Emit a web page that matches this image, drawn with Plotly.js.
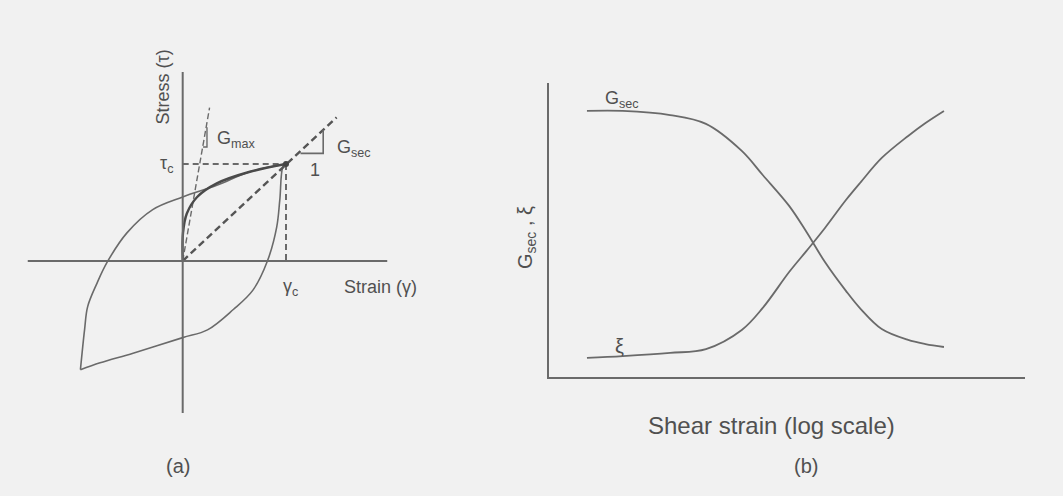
<!DOCTYPE html>
<html>
<head>
<meta charset="utf-8">
<script src="https://cdn.plot.ly/plotly-3.0.1.min.js"></script>
<style>
  html, body { margin: 0; padding: 0; background: #f1f1f1; }
  #chart { width: 1063px; height: 496px; }
</style>
</head>
<body>
<div id="chart"></div>
<script>
// panel (a): strain / stress normalised by gamma_c, tau_c
const gammaC = 1;
const tauC = 1;

const upperX = [1, 0.65, 0.33, 0.0, -0.29, -0.54, -0.73, -0.83, -0.92, -0.95, -0.99];
const upperY = [1, 0.92, 0.78, 0.66, 0.53, 0.29, -0.01, -0.23, -0.47, -0.71, -1.12];

const lowerX = [-0.99, -0.8, -0.48, 0.0, 0.24, 0.49, 0.68, 0.82, 0.91, 0.94, 0.97, 1];
const lowerY = [-1.12, -1.05, -0.95, -0.79, -0.71, -0.5, -0.3, 0.0, 0.35, 0.63, 0.97, 1];

const backboneX = [0, 0.003, 0.04, 0.14, 0.33, 0.65, 1];
const backboneY = [0, 0.29, 0.49, 0.66, 0.8, 0.92, 1];

const gMaxX = [0, 0.26];
const gMaxY = [0, 1.58];
const gMaxStepX = [0.197, 0.235, 0.235];
const gMaxStepY = [1.175, 1.175, 1.38];

const gSecX = [0, 1.49];
const gSecY = [0, 1.48];
const gSecTriX = [1.14, 1.36, 1.36];
const gSecTriY = [1.11, 1.11, 1.35];

// panel (b): shear strain (log) vs normalised G_sec and damping
const strain = [1e-4, 2e-4, 5e-4, 1e-3, 2e-3, 3e-3, 5e-3, 7e-3, 1e-2, 1.5e-2, 2e-2, 3e-2, 5e-2, 7e-2, 1e-1];
const gSec = [0.905, 0.905, 0.891, 0.861, 0.769, 0.687, 0.582, 0.493, 0.391, 0.293, 0.231, 0.163, 0.126, 0.112, 0.102];
const damping = [0.065, 0.071, 0.082, 0.095, 0.16, 0.235, 0.357, 0.429, 0.507, 0.602, 0.663, 0.745, 0.82, 0.864, 0.905];

const W = 1063, H = 496;
const lineCol = "#6a6a6a";
const textCol = "#505050";
const font = "Liberation Sans";

function px(x) { return x / W; }
function py(y) { return 1 - y / H; }

function line(x, y, opts) {
  return Object.assign({
    x, y,
    type: "scatter",
    mode: "lines",
    xaxis: "x",
    yaxis: "y",
    hoverinfo: "skip",
    showlegend: false,
    line: { color: lineCol, width: 1.6 }
  }, opts || {});
}

function smooth(color, width) {
  return { color, width, shape: "spline", smoothing: 1 };
}

const traces = [
  line(upperX, upperY, { line: smooth(lineCol, 1.6) }),
  line(lowerX, lowerY, { line: smooth(lineCol, 1.6) }),
  line([0, gammaC], [tauC, tauC], { line: { color: lineCol, width: 2, dash: "6px,4px" } }),
  line([gammaC, gammaC], [tauC, 0], { line: { color: lineCol, width: 2, dash: "6px,4px" } }),
  line(gSecX, gSecY, { line: { color: "#555", width: 2.4, dash: "7px,4px" } }),
  line(gMaxX, gMaxY, { line: { color: lineCol, width: 1.4, dash: "6px,3px" } }),
  line(gMaxStepX, gMaxStepY, { line: { color: lineCol, width: 1.4 } }),
  line(gSecTriX, gSecTriY, { line: { color: lineCol, width: 1.6 } }),
  line(backboneX, backboneY, { line: smooth("#4a4a4a", 2.4) }),
  line([gammaC], [tauC], { mode: "markers", marker: { color: "#444", size: 6 } }),

  line(strain, gSec, { xaxis: "x2", yaxis: "y2", line: smooth(lineCol, 1.8) }),
  line(strain, damping, { xaxis: "x2", yaxis: "y2", line: smooth(lineCol, 1.8) })
];

const hidden = {
  showgrid: false, zeroline: false, showticklabels: false,
  ticks: "", showline: false, fixedrange: true
};

const shapes = [
  // panel (a) axes
  { type: "line", xref: "x", yref: "y", x0: -1.5, x1: 1.98, y0: 0, y1: 0,
    line: { color: lineCol, width: 2 } },
  { type: "line", xref: "x", yref: "y", x0: 0, x1: 0, y0: -1.567, y1: 1.948,
    line: { color: lineCol, width: 2 } }
];

function note(text, x, y, opts) {
  return Object.assign({
    text, x, y,
    xref: "x", yref: "y",
    xanchor: "center", yanchor: "middle",
    showarrow: false,
    font: { family: font, size: 18, color: textCol }
  }, opts || {});
}

function paperNote(text, x, y, size, opts) {
  return note(text, px(x), py(y), Object.assign({
    xref: "paper", yref: "paper",
    font: { family: font, size, color: textCol }
  }, opts || {}));
}

const annotations = [
  note("τ<sub>c</sub>", -0.07, 1, { xanchor: "right" }),
  note("γ<sub>c</sub>", 1.04, -0.27),
  note("Strain (γ)", 1.54, -0.27, { xanchor: "left" }),
  note("Stress (τ)", -0.19, 1.79, { textangle: -90 }),
  note("G<sub>max</sub>", 0.31, 1.25, { xanchor: "left" }),
  note("G<sub>sec</sub>", 1.47, 1.16, { xanchor: "left" }),
  note("1", 1.28, 0.94),
  paperNote("(a)", 178, 466, 20),

  paperNote("G<sub>sec</sub>", 603, 99, 18, { xanchor: "left" }),
  paperNote("ξ", 619, 346, 20),
  paperNote("G<sub>sec</sub> , ξ", 526, 238, 20, { textangle: -90 }),
  paperNote("Shear strain (log scale)", 771, 425, 24),
  paperNote("(b)", 806, 466, 20)
];

const layout = {
  width: W,
  height: H,
  margin: { l: 0, r: 0, t: 0, b: 0 },
  paper_bgcolor: "#f1f1f1",
  plot_bgcolor: "rgba(0,0,0,0)",
  font: { family: font, color: textCol },
  showlegend: false,
  hovermode: false,

  xaxis: Object.assign({ domain: [0, 0.4], range: [-1.7686, 2.3475], anchor: "y" }, hidden),
  yaxis: Object.assign({ domain: [0, 1], range: [-2.4227, 2.6907], anchor: "x" }, hidden),

  xaxis2: Object.assign({}, hidden, {
    type: "log",
    domain: [549 / W, 1025 / W],
    range: [-4.319, -0.319],
    anchor: "y2",
    showline: true, linecolor: lineCol, linewidth: 2
  }),
  yaxis2: Object.assign({}, hidden, {
    domain: [(H - 377) / H, (H - 83) / H],
    range: [0, 1],
    anchor: "x2",
    showline: true, linecolor: lineCol, linewidth: 2
  }),

  shapes,
  annotations
};

Plotly.newPlot("chart", traces, layout, { displayModeBar: false });
</script>
</body>
</html>
